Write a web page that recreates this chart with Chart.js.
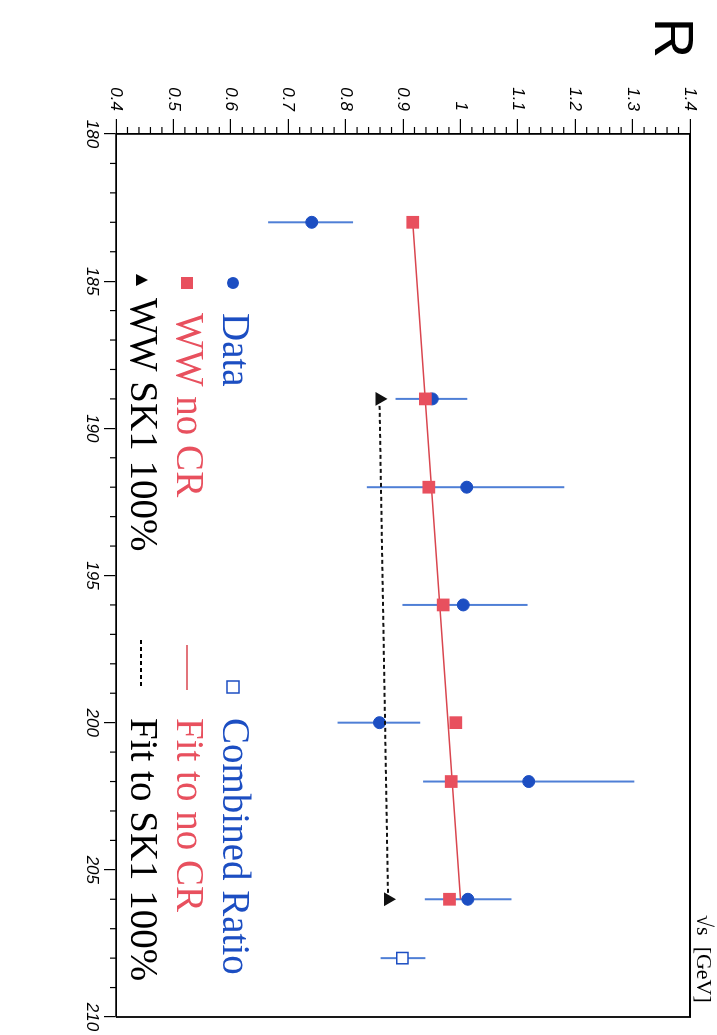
<!DOCTYPE html>
<html>
<head>
<meta charset="utf-8">
<style>
  html, body { margin: 0; padding: 0; background: #fff; overflow: hidden; }
  #wrap { position: absolute; left: 717px; top: 0; width: 1035px; height: 717px;
          transform-origin: 0 0; transform: rotate(90deg); }
</style>
</head>
<body>
<div id="wrap"><canvas id="ratioChart" width="1035" height="717"></canvas></div>
<script src="https://cdn.jsdelivr.net/npm/chart.js"></script>
<script>
// centre-of-mass energies (GeV)
const energies = [183, 189, 192, 196, 200, 202, 206];
// measured ratio R with error range
const dataR  = [0.741, 0.951, 1.011, 1.005, 0.859, 1.119, 1.013];
const dataLo = [0.665, 0.887, 0.837, 0.899, 0.786, 0.935, 0.938];
const dataHi = [0.813, 1.012, 1.181, 1.117, 0.930, 1.303, 1.089];
// WW prediction without colour reconnection
const noCR = [0.917, 0.939, 0.945, 0.970, 0.992, 0.984, 0.981];
// fit to no CR
const fitNoCRx = [183, 206];
const fitNoCRy = [0.917, 1.000];
// WW SK1 100% (and its fit)
const sk1x = [189, 206];
const sk1R = [0.859, 0.874];
// combined ratio
const combX = [208];
const combR = [0.899];
const combLo = [0.861];
const combHi = [0.939];
// tick labels
const sqrtsTicks = [180, 185, 190, 195, 200, 205, 210];
const rTicks = [0.4, 0.5, 0.6, 0.7, 0.8, 0.9, 1.0, 1.1, 1.2, 1.3, 1.4];

const BLUE = '#1c4ec2';
const BLUE_BAR = '#4f7fd6';
const RED = '#e8505e';
const RED_LINE = '#d9464f';

function pts(xs, ys) {
    return xs.map((x, i) => ({ x: x, y: ys[i] }));
}

// vertical error bars for data and combined ratio
const errorBars = {
    id: 'errorBars',
    beforeDatasetsDraw(chart) {
        const ctx = chart.ctx, xs = chart.scales.x, ys = chart.scales.y;
        ctx.save();
        ctx.strokeStyle = BLUE_BAR;
        ctx.lineWidth = 2;
        const draw = (x, lo, hi) => {
            const px = xs.getPixelForValue(x);
            ctx.beginPath();
            ctx.moveTo(px, ys.getPixelForValue(lo));
            ctx.lineTo(px, ys.getPixelForValue(hi));
            ctx.stroke();
        };
        energies.forEach((e, i) => draw(e, dataLo[i], dataHi[i]));
        combX.forEach((e, i) => draw(e, combLo[i], combHi[i]));
        ctx.restore();
    }
};

// minor ticks, frame, titles and legend
const decorations = {
    id: 'decorations',
    afterDraw(chart) {
        const ctx = chart.ctx, xs = chart.scales.x, ys = chart.scales.y;
        const a = chart.chartArea;
        ctx.save();
        ctx.strokeStyle = '#000';
        ctx.lineWidth = 1.2;
        // minor ticks on R axis every 0.02
        for (let k = 20; k <= 70; k++) {
            if (k % 5 === 0) continue;
            const py = ys.getPixelForValue(k * 0.02);
            ctx.beginPath();
            ctx.moveTo(a.left, py);
            ctx.lineTo(a.left - 7, py);
            ctx.stroke();
        }
        // minor ticks on sqrt(s) axis every 1 GeV
        for (let e = 180; e <= 210; e++) {
            if (e % 5 === 0) continue;
            const px = xs.getPixelForValue(e);
            ctx.beginPath();
            ctx.moveTo(px, a.bottom);
            ctx.lineTo(px, a.bottom + 6);
            ctx.stroke();
        }
        // top and right frame
        ctx.lineWidth = 1.8;
        ctx.beginPath();
        ctx.moveTo(a.left, a.top);
        ctx.lineTo(a.right, a.top);
        ctx.lineTo(a.right, a.bottom);
        ctx.stroke();

        // axis titles
        ctx.fillStyle = '#000';
        ctx.textBaseline = 'middle';
        ctx.textAlign = 'center';
        ctx.font = '56px "Liberation Sans"';
        ctx.fillText('R', 38, 47);
        ctx.font = '22px "Liberation Serif"';
        ctx.textAlign = 'left';
        ctx.fillText('\u221As  [GeV]', 915, 14);

        // legend
        ctx.font = '39px "Liberation Serif"';
        const rowY = [484, 530, 576];
        // Data
        ctx.fillStyle = BLUE;
        ctx.beginPath();
        ctx.arc(283, rowY[0], 6, 0, Math.PI * 2);
        ctx.fill();
        ctx.fillText('Data', 313, rowY[0]);
        // WW no CR
        ctx.fillStyle = RED;
        ctx.fillRect(277, rowY[1] - 6, 12, 12);
        ctx.fillText('WW no CR', 313, rowY[1]);
        // WW SK1 100%
        ctx.fillStyle = '#000';
        ctx.beginPath();
        ctx.moveTo(280, rowY[2] - 7);
        ctx.lineTo(286, rowY[2] + 5);
        ctx.lineTo(274, rowY[2] + 5);
        ctx.closePath();
        ctx.fill();
        ctx.fillText('WW SK1 100%', 298, rowY[2]);
        // Combined Ratio
        ctx.strokeStyle = BLUE;
        ctx.lineWidth = 1.5;
        ctx.strokeRect(681, rowY[0] - 6, 12, 12);
        ctx.fillStyle = BLUE;
        ctx.fillText('Combined Ratio', 718, rowY[0]);
        // Fit to no CR
        ctx.strokeStyle = RED_LINE;
        ctx.beginPath();
        ctx.moveTo(645, rowY[1]);
        ctx.lineTo(690, rowY[1]);
        ctx.stroke();
        ctx.fillStyle = RED;
        ctx.fillText('Fit to no CR', 718, rowY[1]);
        // Fit to SK1 100%
        ctx.strokeStyle = '#000';
        ctx.lineWidth = 2;
        ctx.setLineDash([4, 3]);
        ctx.beginPath();
        ctx.moveTo(640, rowY[2]);
        ctx.lineTo(686, rowY[2]);
        ctx.stroke();
        ctx.setLineDash([]);
        ctx.fillStyle = '#000';
        ctx.fillText('Fit to SK1 100%', 718, rowY[2]);
        ctx.restore();
    }
};

const tickFont = { family: '"Liberation Sans"', style: 'italic', size: 17 };

new Chart(document.getElementById('ratioChart'), {
    type: 'scatter',
    data: {
        datasets: [
            {
                label: 'Combined Ratio',
                data: pts(combX, combR),
                pointStyle: 'rect',
                pointRadius: 8,
                backgroundColor: '#fff',
                borderColor: BLUE,
                borderWidth: 1.5,
                order: 0
            },
            {
                label: 'WW no CR',
                data: pts(energies, noCR),
                pointStyle: 'rect',
                pointRadius: 9,
                backgroundColor: RED,
                borderWidth: 0,
                order: 1
            },
            {
                label: 'WW SK1 100%',
                data: pts(sk1x, sk1R),
                showLine: true,
                borderColor: '#111',
                borderWidth: 2,
                borderDash: [4, 3],
                pointStyle: 'triangle',
                pointRadius: 6,
                pointBackgroundColor: '#111',
                pointBorderColor: '#111',
                order: 2
            },
            {
                label: 'Data',
                data: pts(energies, dataR),
                pointStyle: 'circle',
                pointRadius: 6,
                backgroundColor: BLUE,
                borderColor: BLUE,
                order: 3
            },
            {
                label: 'Fit to no CR',
                data: pts(fitNoCRx, fitNoCRy),
                showLine: true,
                borderColor: RED_LINE,
                borderWidth: 1.5,
                pointRadius: 0,
                order: 4
            }
        ]
    },
    options: {
        responsive: false,
        animation: false,
        layout: { padding: { top: 27, right: 18, left: 0, bottom: 0 } },
        plugins: {
            legend: { display: false },
            tooltip: { enabled: false }
        },
        scales: {
            x: {
                type: 'linear',
                position: 'bottom',
                min: 180,
                max: 210,
                afterBuildTicks: s => { s.ticks = sqrtsTicks.map(v => ({ value: v })); },
                afterFit: s => { s.height = 116; },
                ticks: { font: tickFont, color: '#000', padding: 2, maxRotation: 0 },
                grid: { drawOnChartArea: false, tickLength: 12, color: '#000', lineWidth: 1.2 },
                border: { color: '#000', width: 1.8 }
            },
            y: {
                type: 'linear',
                min: 0.4,
                max: 1.4,
                afterBuildTicks: s => { s.ticks = rTicks.map(v => ({ value: v })); },
                afterFit: s => { s.width = 134; },
                ticks: {
                    font: tickFont,
                    color: '#000',
                    padding: 8,
                    callback: v => String(Math.round(v * 10) / 10)
                },
                grid: { drawOnChartArea: false, tickLength: 15, color: '#000', lineWidth: 1.2 },
                border: { color: '#000', width: 1.8 }
            }
        }
    },
    plugins: [errorBars, decorations]
});
</script>
</body>
</html>
